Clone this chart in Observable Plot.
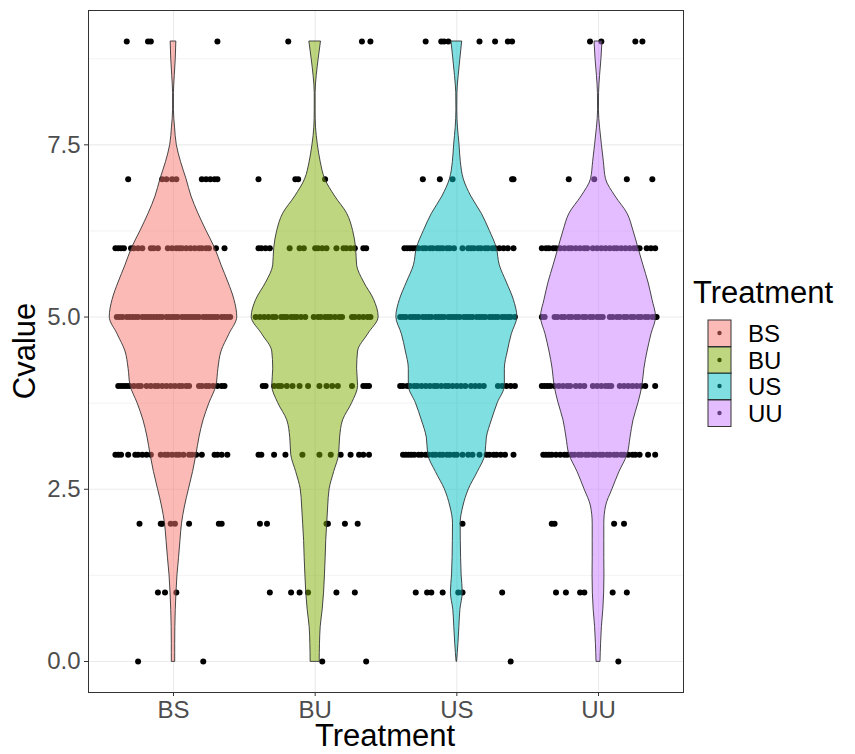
<!DOCTYPE html>
<html><head><meta charset="utf-8">
<script src="https://cdn.jsdelivr.net/npm/d3@7"></script>
<script src="https://cdn.jsdelivr.net/npm/@observablehq/plot@0.6"></script>
<style>
body{margin:0;background:#fff;font-family:"Liberation Sans",Arial,sans-serif}
#wrap{position:relative;width:855px;height:754px;overflow:hidden}
#wrap svg{position:absolute;left:0;top:0}
.t{position:absolute;color:#000;white-space:nowrap;line-height:1}
</style></head><body><div id="wrap"></div>
<script>
const categories = ["BS","BU","US","UU"];
const colors = ["#F8766D","#7CAE00","#00BFC4","#C77CFF"];
const yTicks = [0, 2.5, 5, 7.5];
const yMinor = [1.25, 3.75, 6.25, 8.75];

// violin half-widths (in category units) at each Cvalue level
const violinY = [0,0.25,0.5,0.75,1,1.25,1.5,1.75,2,2.25,2.5,2.75,3,3.25,3.5,3.75,4,4.25,4.5,4.75,5,5.25,5.5,5.75,6,6.25,6.5,6.75,7,7.25,7.5,7.75,8,8.25,8.5,8.75,9];
const widthBS = [0.012,0.012,0.013,0.016,0.021,0.028,0.039,0.049,0.060,0.081,0.109,0.138,0.162,0.183,0.212,0.254,0.303,0.317,0.339,0.395,0.450,0.430,0.388,0.339,0.293,0.233,0.176,0.127,0.092,0.053,0.023,0.011,0.003,0.003,0.009,0.016,0.020];
const widthBU = [0.032,0.034,0.039,0.053,0.063,0.069,0.074,0.078,0.085,0.092,0.102,0.134,0.169,0.176,0.197,0.261,0.303,0.296,0.303,0.374,0.448,0.416,0.346,0.296,0.289,0.268,0.226,0.141,0.071,0.039,0.019,0.006,0.003,0.003,0.011,0.025,0.041];
const widthUS = [0.002,0.011,0.018,0.025,0.042,0.034,0.030,0.028,0.027,0.046,0.085,0.148,0.202,0.212,0.247,0.289,0.339,0.339,0.360,0.388,0.427,0.402,0.353,0.303,0.282,0.233,0.176,0.102,0.049,0.028,0.019,0.008,0.003,0.004,0.013,0.025,0.038];
const widthUU = [0.014,0.018,0.024,0.034,0.040,0.042,0.041,0.041,0.041,0.053,0.099,0.148,0.205,0.226,0.247,0.282,0.310,0.324,0.346,0.374,0.406,0.381,0.353,0.317,0.282,0.247,0.205,0.120,0.053,0.038,0.024,0.011,0.003,0.004,0.011,0.021,0.028];

// observed points: [Cvalue, horizontal jitter offsets in category units]
const pointsBS = [
 [9,[-0.33,-0.18,-0.16,0.31]],
 [7,[-0.32,-0.08,-0.05,-0.01,0.02,0.20,0.23,0.26,0.29,0.31]],
 [6,[-0.41,-0.39,-0.37,-0.35,-0.30,-0.28,-0.25,-0.22,-0.16,-0.14,-0.11,-0.04,-0.01,0.02,0.04,0.06,0.09,0.12,0.15,0.18,0.20,0.23,0.25,0.30,0.36]],
 [5,[-0.40,-0.38,-0.36,-0.33,-0.31,-0.29,-0.27,-0.25,-0.22,-0.20,-0.18,-0.16,-0.14,-0.12,-0.10,-0.08,-0.05,-0.03,-0.01,0.01,0.03,0.06,0.08,0.10,0.12,0.14,0.16,0.18,0.21,0.23,0.25,0.27,0.29,0.31,0.34,0.36,0.38,0.40]],
 [4,[-0.39,-0.37,-0.35,-0.33,-0.31,-0.28,-0.25,-0.23,-0.19,-0.16,-0.13,-0.11,-0.08,-0.05,-0.02,0.01,0.04,0.06,0.09,0.11,0.18,0.20,0.23,0.25,0.28,0.31,0.34,0.36]],
 [3,[-0.41,-0.39,-0.37,-0.32,-0.27,-0.25,-0.22,-0.19,-0.16,-0.09,-0.06,-0.04,-0.01,0.02,0.04,0.07,0.11,0.13,0.16,0.20,0.29,0.31,0.34,0.38]],
 [2,[-0.24,-0.09,-0.08,-0.02,0.01,0.11,0.32,0.34]],
 [1,[-0.11,-0.06,0.02]],
 [0,[-0.25,0.21]]
];
const pointsBU = [
 [9,[-0.19,0.33,0.39]],
 [7,[-0.40,-0.14,-0.12,0.07]],
 [6,[-0.40,-0.38,-0.35,-0.32,-0.18,-0.11,-0.08,0.00,0.02,0.05,0.08,0.15,0.20,0.22,0.25,0.28,0.34,0.36]],
 [5,[-0.42,-0.39,-0.36,-0.33,-0.30,-0.28,-0.24,-0.22,-0.20,-0.17,-0.15,-0.13,-0.10,-0.07,-0.01,0.02,0.04,0.07,0.09,0.11,0.14,0.17,0.19,0.26,0.28,0.31,0.34,0.37,0.39]],
 [4,[-0.37,-0.35,-0.29,-0.26,-0.24,-0.20,-0.16,-0.11,-0.05,0.03,0.08,0.12,0.16,0.26,0.34,0.36,0.38]],
 [3,[-0.40,-0.38,-0.29,-0.21,-0.09,0.03,0.11,0.18,0.25,0.31,0.34,0.38]],
 [2,[-0.39,-0.34,0.08,0.09,0.21,0.30]],
 [1,[-0.32,-0.17,-0.11,-0.05,0.15,0.28]],
 [0,[0.05,0.36]]
];
const pointsUS = [
 [9,[-0.22,-0.11,-0.09,-0.06,0.16,0.27,0.36,0.39]],
 [7,[-0.24,-0.12,-0.03,0.39,0.40]],
 [6,[-0.37,-0.35,-0.33,-0.31,-0.29,-0.27,-0.24,-0.22,-0.19,-0.17,-0.14,-0.12,-0.10,-0.07,-0.05,-0.02,0.04,0.08,0.10,0.12,0.15,0.17,0.20,0.22,0.25,0.27,0.30,0.33,0.36,0.40]],
 [5,[-0.40,-0.38,-0.36,-0.33,-0.31,-0.29,-0.27,-0.24,-0.22,-0.20,-0.18,-0.15,-0.13,-0.11,-0.09,-0.06,-0.04,-0.02,0.00,0.02,0.05,0.07,0.09,0.11,0.14,0.16,0.18,0.20,0.23,0.25,0.27,0.29,0.32,0.34,0.36,0.38,0.41]],
 [4,[-0.40,-0.38,-0.35,-0.33,-0.30,-0.28,-0.25,-0.22,-0.19,-0.16,-0.14,-0.11,-0.08,-0.06,-0.03,0.00,0.03,0.06,0.10,0.13,0.16,0.19,0.29,0.32,0.35,0.38,0.41]],
 [3,[-0.38,-0.36,-0.34,-0.32,-0.30,-0.27,-0.25,-0.22,-0.20,-0.17,-0.15,-0.12,-0.10,-0.07,-0.05,-0.02,0.00,0.04,0.08,0.11,0.16,0.21,0.23,0.26,0.28,0.31,0.34,0.40]],
 [2,[0.04]],
 [1,[-0.29,-0.21,-0.18,-0.10,0.01,0.04,0.32]],
 [0,[0.38]]
];
const pointsUU = [
 [9,[-0.06,0.02,0.26,0.31]],
 [7,[-0.21,-0.03,0.20,0.38]],
 [6,[-0.40,-0.37,-0.35,-0.32,-0.30,-0.27,-0.24,-0.21,-0.19,-0.16,-0.13,-0.10,-0.08,-0.04,-0.01,0.02,0.05,0.08,0.11,0.13,0.16,0.19,0.22,0.25,0.27,0.29,0.34,0.37,0.40]],
 [5,[-0.40,-0.38,-0.31,-0.29,-0.26,-0.24,-0.21,-0.19,-0.16,-0.14,-0.11,-0.09,-0.06,-0.04,-0.01,0.01,0.03,0.08,0.10,0.13,0.15,0.18,0.20,0.23,0.25,0.28,0.30,0.33,0.35,0.38,0.40,0.41]],
 [4,[-0.40,-0.38,-0.36,-0.34,-0.31,-0.28,-0.25,-0.22,-0.20,-0.16,-0.13,-0.10,-0.04,-0.01,0.02,0.05,0.07,0.09,0.15,0.18,0.21,0.24,0.27,0.30,0.33,0.40]],
 [3,[-0.39,-0.37,-0.35,-0.33,-0.30,-0.27,-0.24,-0.22,-0.19,-0.17,-0.14,-0.12,-0.09,-0.07,-0.04,-0.02,0.01,0.03,0.06,0.08,0.11,0.13,0.16,0.18,0.21,0.24,0.26,0.29,0.35,0.40]],
 [2,[-0.33,-0.31,0.11,0.18]],
 [1,[-0.30,-0.23,-0.13,-0.10,0.10,0.20]],
 [0,[0.14]]
];

const pointSets = [pointsBS, pointsBU, pointsUS, pointsUU];
const widthSets = [widthBS, widthBU, widthUS, widthUU];

const points = [];
pointSets.forEach((rows, i) => rows.forEach(([v, offs]) => offs.forEach(o => points.push({t: categories[i], x: i + 1 + o, y: v}))));
const violins = [];
widthSets.forEach((ws, i) => violinY.forEach((y, j) => violins.push({t: categories[i], y, x1: i + 1 - ws[j], x2: i + 1 + ws[j]})));

const chart = Plot.plot({
  width: 855, height: 754,
  marginLeft: 88, marginRight: 172, marginTop: 10, marginBottom: 62,
  style: {fontFamily: '"Liberation Sans", Arial, sans-serif', background: "white"},
  x: {domain: [0.4, 4.6]},
  y: {domain: [-0.45, 9.45]},
  color: {domain: categories, range: colors},
  marks: [
    Plot.gridY(yMinor, {stroke: "#EBEBEB", strokeOpacity: 1, strokeWidth: 0.6}),
    Plot.gridY(yTicks, {stroke: "#EBEBEB", strokeOpacity: 1, strokeWidth: 1.1}),
    Plot.gridX([1, 2, 3, 4], {stroke: "#EBEBEB", strokeOpacity: 1, strokeWidth: 1.1}),
    Plot.dot(points, {x: "x", y: "y", r: 3, fill: "black"}),
    Plot.areaX(violins, {y: "y", x1: "x1", x2: "x2", z: "t", fill: "t", fillOpacity: 0.5, stroke: "#333333", strokeWidth: 0.9, curve: "monotone-y"}),
    Plot.frame({stroke: "#333333", strokeWidth: 1}),
    Plot.axisX([1, 2, 3, 4], {tickFormat: d => categories[d - 1], tickSize: 4, tickPadding: 4, fontSize: 24, fill: "#4D4D4D", stroke: "#333333", label: null}),
    Plot.axisY(yTicks, {tickFormat: d3.format(".1f"), tickSize: 4, tickPadding: 4, fontSize: 24, fill: "#4D4D4D", stroke: "#333333", label: null})
  ]
});
const wrap = document.getElementById("wrap");
wrap.appendChild(chart);

function addText(txt, css) {
  const d = document.createElement("div");
  d.className = "t";
  d.textContent = txt;
  Object.assign(d.style, css);
  wrap.appendChild(d);
  return d;
}
addText("Treatment", {left: "385px", top: "723px", fontSize: "31px", lineHeight: "0.85", transform: "translateX(-50%)"});
addText("Cvalue", {left: "24px", top: "351px", fontSize: "31px", transform: "translate(-50%,-50%) rotate(-90deg)"});
addText("Treatment", {left: "693px", top: "277px", fontSize: "31px"});

const keyTop = 320, keyH = 26.5;
categories.forEach((c, i) => {
  const ns = "http://www.w3.org/2000/svg";
  const s = document.createElementNS(ns, "svg");
  s.setAttribute("width", 25); s.setAttribute("height", 28);
  s.style.position = "absolute"; s.style.left = "707px"; s.style.top = (keyTop + i * keyH - 1) + "px";
  const circ = document.createElementNS(ns, "circle");
  circ.setAttribute("cx", 12.5); circ.setAttribute("cy", 14); circ.setAttribute("r", 2.2); circ.setAttribute("fill", "black");
  const rect = document.createElementNS(ns, "rect");
  rect.setAttribute("x", 1); rect.setAttribute("y", 1); rect.setAttribute("width", 23); rect.setAttribute("height", keyH);
  rect.setAttribute("fill", colors[i]); rect.setAttribute("fill-opacity", 0.5);
  rect.setAttribute("stroke", "#333333"); rect.setAttribute("stroke-width", 1);
  s.appendChild(circ); s.appendChild(rect);
  wrap.appendChild(s);
  addText(c, {left: "748px", top: (keyTop + i * keyH + 2) + "px", fontSize: "24px"});
});
</script></body></html>
